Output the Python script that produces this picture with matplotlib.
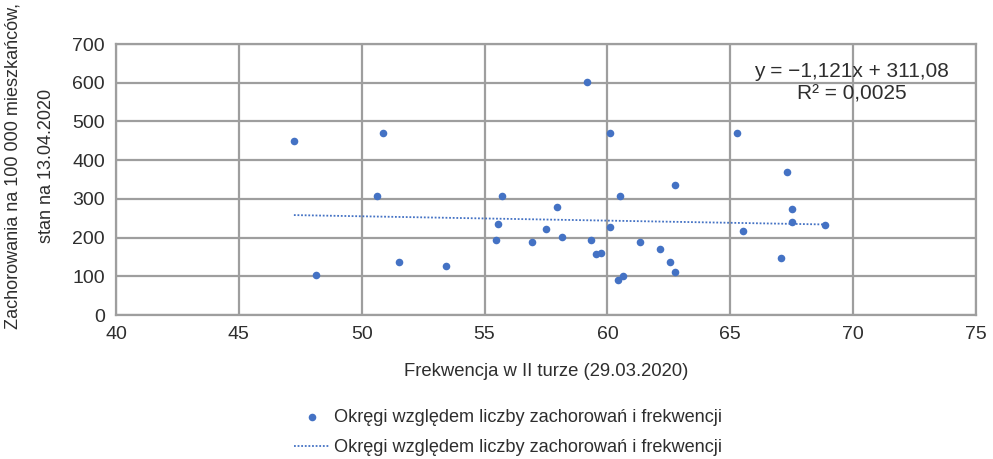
import matplotlib
matplotlib.use('Agg')
import matplotlib.pyplot as plt
import numpy as np

plt.rcParams['font.family'] = ['Liberation Sans Narrow', 'Liberation Sans', 'DejaVu Sans']

# turnout in 2nd round (%) vs cases per 100k
turnout = [47.24, 48.15, 50.64, 50.85, 51.53, 53.45, 55.45, 55.55, 55.72,
           56.94, 57.50, 57.93, 58.15, 59.16, 59.32, 59.52, 59.74, 60.11,
           60.11, 60.42, 60.53, 60.63, 61.33, 62.13, 62.55, 62.75, 62.75,
           65.26, 65.50, 67.05, 67.31, 67.53, 67.53, 68.84]
cases = [450, 103, 308, 469, 137, 127, 194, 234, 308,
         188, 221, 278, 201, 601, 194, 157, 161, 469,
         227, 90, 308, 100, 188, 171, 137, 336, 110,
         469, 218, 147, 369, 275, 241, 232]

slope = -1.121
intercept = 311.08
r2_text = "y = \u22121,121x + 311,08\nR\u00b2 = 0,0025"
series_label = "Okręgi względem liczby zachorowań i frekwencji"
ylabel_1 = "Zachorowania na 100 000 mieszkańców,"
ylabel_2 = "stan na 13.04.2020"

blue = '#4472C4'
grid_c = '#9e9e9e'
txt_c = '#2e2e2e'

fig = plt.figure(figsize=(9.93, 4.59), dpi=100)
ax = fig.add_axes([0.1168, 0.3137, 0.8661, 0.5904])

ax.scatter(turnout, cases, s=30, color=blue, zorder=3, linewidths=0,
           label=series_label)

xs = np.array([min(turnout), max(turnout)])
ax.plot(xs, slope * xs + intercept, color=blue, linestyle=(0, (1, 1)),
        linewidth=1.3, zorder=2, label=series_label)

ax.set_xlim(40, 75)
ax.set_ylim(0, 700)
ax.set_xticks(range(40, 80, 5))
ax.set_yticks(range(0, 800, 100))
ax.grid(True, color=grid_c, linewidth=1.6, zorder=0)
ax.set_axisbelow(True)
for s in ax.spines.values():
    s.set_color(grid_c)
    s.set_linewidth(1.6)
ax.tick_params(length=0, labelsize=14, colors=txt_c, pad=8)

ax.set_xlabel("Frekwencja w II turze (29.03.2020)", fontsize=13.3, color=txt_c,
              labelpad=14)
fig.text(13 / 993, 1 - 166 / 459, ylabel_1, rotation=90, ha='center',
         va='center', fontsize=13, color=txt_c)
fig.text(47 / 993, 1 - 166 / 459, ylabel_2, rotation=90, ha='center',
         va='center', fontsize=13, color=txt_c)

ax.text(69.94, 600, r2_text, ha='center', va='center', fontsize=15,
        color=txt_c, linespacing=1.2, zorder=4)

fig.legend(loc='center', bbox_to_anchor=(0.512, 0.058), ncol=1, frameon=False,
           fontsize=13.1, labelcolor=txt_c, handlelength=1.9, handletextpad=0.3,
           labelspacing=0.72, borderpad=0)

fig.savefig('out.png', dpi=100)
